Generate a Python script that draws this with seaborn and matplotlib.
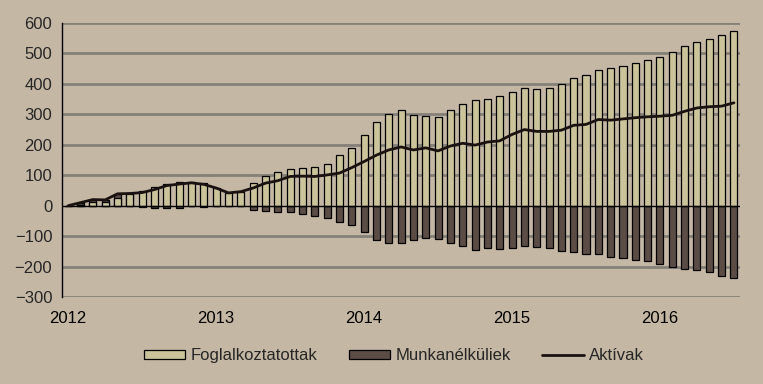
import matplotlib
matplotlib.use("Agg")
import matplotlib.pyplot as plt
import numpy as np
import pandas as pd
import seaborn as sns
from matplotlib.patches import Patch
from matplotlib.lines import Line2D

# ---- data (change vs. Jan 2012, thousand persons), monthly 2012-01 .. 2016-07
years = ["2012", "2013", "2014", "2015", "2016"]
foglalkoztatottak = [0, 2, 11, 11, 25, 39, 47, 61, 72, 77,
                     77, 73, 58, 43, 45, 76, 96, 109, 122, 125,
                     128, 138, 166, 188, 231, 276, 302, 315, 299, 296,
                     292, 313, 335, 346, 352, 361, 373, 387, 384, 387,
                     400, 419, 429, 446, 452, 459, 468, 478, 488, 504,
                     526, 539, 547, 560, 575]
munkanelkuliek = [0, 8, 9, 8, 14, 1, -4, -8, -7, -8,
                  -2, -4, 0, -2, 0, -15, -19, -21, -21, -26,
                  -33, -39, -55, -63, -88, -112, -121, -121, -114, -106,
                  -108, -121, -132, -147, -140, -142, -139, -134, -136, -139,
                  -149, -153, -159, -159, -169, -172, -178, -181, -192, -202,
                  -207, -211, -218, -231, -237]
aktivak = [0, 10, 20, 19, 39, 40, 43, 53, 66, 71,
           75, 70, 58, 42, 46, 58, 74, 82, 96, 97,
           96, 101, 107, 125, 145, 166, 183, 193, 183, 190,
           180, 196, 205, 199, 209, 213, 234, 250, 244, 244,
           248, 264, 267, 283, 281, 285, 289, 292, 294, 297,
           310, 321, 325, 327, 338]

BG = "#C4B8A4"
LIGHT = "#CBC39A"
DARK = "#5B4D45"

n = len(foglalkoztatottak)
df = pd.DataFrame({
    "idx": np.arange(n),
    "fogl": foglalkoztatottak,
    "munk": munkanelkuliek,
    "akt": aktivak,
})
# positive unemployment changes are stacked on top of the employment bar (Excel style)
df["munk_top"] = np.where(df["munk"] > 0, df["fogl"] + df["munk"], df["munk"])

sns.set_style("white")
plt.rcParams["font.family"] = ["Liberation Sans", "DejaVu Sans"]

fig = plt.figure(figsize=(7.63, 3.84), dpi=100, facecolor=BG)
ax = fig.add_axes([0.0813, 0.2266, 0.8887, 0.7134])
ax.set_facecolor(BG)

# gridlines
for v in range(-300, 601, 100):
    if v != 0:
        ax.axhline(v, color="#858078", lw=2, zorder=0)

sns.barplot(data=df, x="idx", y="munk_top", color=DARK, width=0.57,
            edgecolor="black", linewidth=0.9, saturation=1, ax=ax, zorder=2)
sns.barplot(data=df, x="idx", y="fogl", color=LIGHT, width=0.57,
            edgecolor="black", linewidth=0.9, saturation=1, ax=ax, zorder=3)
ax.axhline(0, color="black", lw=1, zorder=4)
sns.lineplot(data=df, x="idx", y="akt", color="#1A1210", lw=2, ax=ax, zorder=5)

ax.set_xlim(-0.5, n - 0.5)
ax.set_ylim(-300, 600)
ax.set_yticks(range(-300, 601, 100))
ax.set_xlabel("")
ax.set_ylabel("")

# x axis at zero, year labels pushed down below the plot area
ax.spines["bottom"].set_position(("data", 0))
ax.spines["bottom"].set_visible(False)
ax.spines["top"].set_visible(False)
ax.spines["right"].set_visible(False)
ax.spines["left"].set_color("black")
ax.spines["left"].set_linewidth(1)
ax.set_xticks([12 * i for i in range(len(years))])
ax.set_xticklabels(years)
ax.set_xticks([12 * i - 0.5 for i in range(1, len(years))], minor=True)
ax.tick_params(axis="x", which="major", length=0, pad=76, labelsize=12, colors="black")
ax.tick_params(axis="x", which="minor", length=4, width=1, color="black", direction="out")
ax.tick_params(axis="y", length=4, width=1, color="black", direction="out", labelsize=12, pad=3)
ax.grid(False)

handles = [
    Patch(facecolor=LIGHT, edgecolor="black", linewidth=0.9),
    Patch(facecolor=DARK, edgecolor="black", linewidth=0.9),
    Line2D([0], [0], color="#1A1210", lw=2),
]
fig.legend(handles, ["Foglalkoztatottak", "Munkanélküliek", "Aktívak"],
           loc="center", bbox_to_anchor=(0.516, 0.073), ncol=3, frameon=False,
           fontsize=12, handlelength=2.5, handleheight=0.45, handletextpad=0.3,
           columnspacing=1.9)

fig.savefig("out.png", dpi=100, facecolor=BG)
